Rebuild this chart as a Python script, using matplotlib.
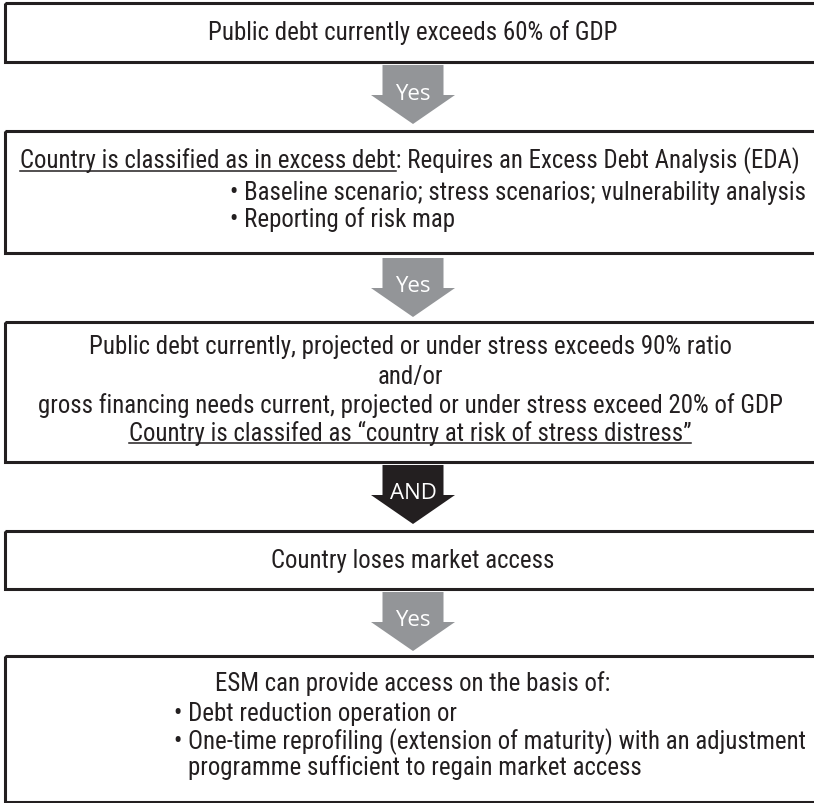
import matplotlib
matplotlib.use("Agg")
import matplotlib.pyplot as plt
from matplotlib import font_manager
from matplotlib.font_manager import FontProperties
from matplotlib.patches import Rectangle, Polygon

W, H = 814, 804
TEXT = "#231f20"
GRAY = "#939598"

BOX1 = ["Public debt currently exceeds 60% of GDP"]
BOX2 = ["Country is classified as in excess debt: Requires an Excess Debt Analysis (EDA)",
        "\u2022 Baseline scenario; stress scenarios; vulnerability analysis",
        "\u2022 Reporting of risk map"]
BOX2_UNDERLINE = "Country is classified as in excess debt"
BOX3 = ["Public debt currently, projected or under stress exceeds 90% ratio",
        "and/or",
        "gross financing needs current, projected or under stress exceed 20% of GDP",
        "Country is classifed as \u201ccountry at risk of stress distress\u201d"]
BOX4 = ["Country loses market access"]
BOX5 = ["ESM can provide access on the basis of:",
        "\u2022 Debt reduction operation or",
        "\u2022 One-time reprofiling (extension of maturity) with an adjustment",
        "programme sufficient to regain market access"]
ARROW_LABELS = ["Yes", "Yes", "AND", "Yes"]
ARROW_COLORS = [GRAY, GRAY, TEXT, GRAY]

# layout (pixels, y from top)
BOX_Y = [(4, 63), (132, 254), (323, 463), (532, 590), (657, 803)]
ARROW_TOP = [66, 259, 466, 593]
CX = 413


def pick_font():
    """Condensed sans face if one is installed, else Liberation Sans."""
    prefs = ["Liberation Sans Narrow", "Arial Narrow", "Roboto Condensed",
             "Open Sans Condensed", "Noto Sans", "Noto Sans Display", "Open Sans",
             "DejaVu Sans", "Lato", "Roboto", "Inter"]
    cands = []
    for f in font_manager.fontManager.ttflist:
        tag = (f.name + " " + f.fname).lower()
        narrow = ("condensed" in tag or "narrow" in tag
                  or f.stretch in ("condensed", "semi-condensed", "extra-condensed"))
        if not narrow or "mono" in tag or "serif" in tag.replace("sans", "") or "cjk" in tag:
            continue
        if f.style != "normal" or f.weight not in (400, "normal", "regular"):
            continue
        if "semi" in tag or "extra" in tag or "ultra" in tag or "light" in tag:
            continue
        rank = prefs.index(f.name) if f.name in prefs else len(prefs)
        cands.append((rank, f.fname))
    if cands:
        return sorted(cands)[0][1]
    return font_manager.findfont(FontProperties(family="Liberation Sans"))


FONT_FILE = pick_font()

fig = plt.figure(figsize=(W / 100, H / 100), dpi=100)
ax = fig.add_axes([0, 0, 1, 1])
ax.set_xlim(0, W)
ax.set_ylim(H, 0)
ax.axis("off")
renderer = fig.canvas.get_renderer()
inv = ax.transData.inverted()


def prop(size):
    return FontProperties(fname=FONT_FILE, size=size)


def extent(t):
    bb = t.get_window_extent(renderer).transformed(inv)
    return min(bb.x0, bb.x1), max(bb.x0, bb.x1), max(bb.y0, bb.y1)


def width_of(s, size):
    tmp = ax.text(0, 0, s, fontproperties=prop(size))
    x0, x1, _ = extent(tmp)
    tmp.remove()
    return x1 - x0


# size the face so the widest line nearly fills the box, as in the reference
FS = min(19.5, 10 * 775 / width_of(BOX2[0], 10))
FP = prop(FS)


def put(x, y, s, ha="center"):
    return ax.text(x, y, s, ha=ha, va="center", fontproperties=FP, color=TEXT)


def underline(t, prefix=None):
    x0, x1, yb = extent(t)
    if prefix:
        x1 = x0 + width_of(prefix, FS)
    ax.plot([x0, x1], [yb - 2, yb - 2], color=TEXT, lw=1.1)


def box(y0, y1):
    ax.add_patch(Rectangle((5, y0), W + 20, y1 - y0, fill=False, ec=TEXT, lw=2.2,
                           clip_on=False))


def arrow(top, label, color):
    rw, hw, rh, hh = 61, 84, 30, 29
    pts = [(CX - rw / 2, top), (CX + rw / 2, top), (CX + rw / 2, top + rh),
           (CX + hw / 2, top + rh), (CX, top + rh + hh), (CX - hw / 2, top + rh),
           (CX - rw / 2, top + rh)]
    ax.add_patch(Polygon(pts, closed=True, fc=color, ec="none"))
    ax.text(CX, top + rh - 2, label, ha="center", va="center", color="white",
            fontsize=16, family=["Open Sans", "DejaVu Sans"])


for (y0, y1) in BOX_Y:
    box(y0, y1)
for top, lab, col in zip(ARROW_TOP, ARROW_LABELS, ARROW_COLORS):
    arrow(top, lab, col)

put(CX, 33, BOX1[0])

t = put(CX - 3, 161, BOX2[0])
underline(t, BOX2_UNDERLINE)
x2 = min(247, 806 - max(width_of(s, FS) for s in BOX2[1:]))
for s, y in zip(BOX2[1:], [193, 220]):
    put(x2, y, s, ha="left")

for i, (s, y) in enumerate(zip(BOX3, [347, 377, 406, 433])):
    t = put(CX - 3, y, s)
    if i == 3:
        underline(t)

put(CX, 561, BOX4[0])

put(CX, 684, BOX5[0])
x5 = min(208, 806 - max(width_of(s, FS) for s in BOX5[1:3]))
for s, y in zip(BOX5[1:3], [714, 742]):
    put(x5, y, s, ha="left")
put(x5 + width_of("\u2022 ", FS), 768, BOX5[3], ha="left")

fig.savefig("out.png", dpi=100)
